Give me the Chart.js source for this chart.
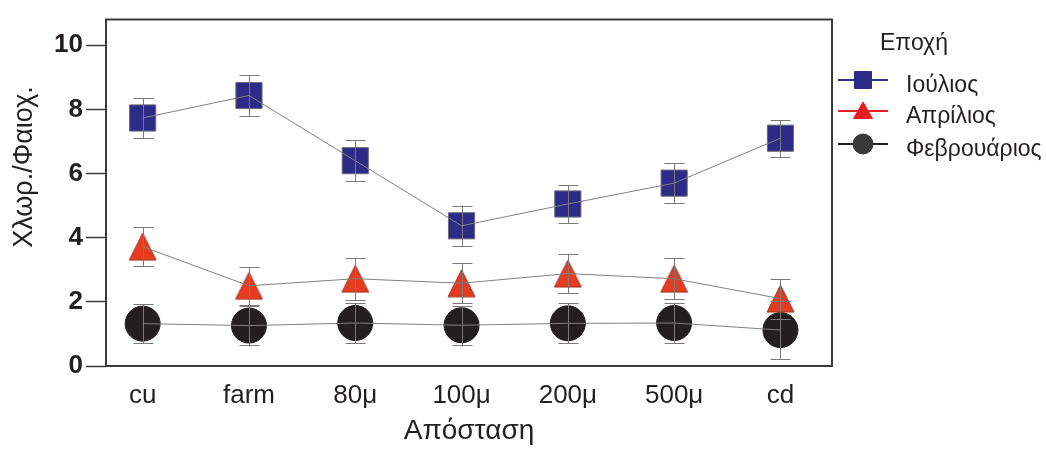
<!DOCTYPE html>
<html>
<head>
<meta charset="utf-8">
<script src="https://cdn.jsdelivr.net/npm/chart.js@4"></script>
<style>
  body { margin: 0; background: #fff; }
  #wrap { width: 1046px; height: 450px; }
</style>
</head>
<body>
<div id="wrap"><canvas id="myChart" width="1046" height="450"></canvas></div>
<script>
// Categories and values
var labels = ['cu', 'farm', '80μ', '100μ', '200μ', '500μ', 'cd'];
var yTicks = [0, 2, 4, 6, 8, 10];
var seriesNames = ['Ιούλιος', 'Απρίλιος', 'Φεβρουάριος'];

var julyMean = [7.73, 8.43, 6.40, 4.37, 5.05, 5.70, 7.10];
var julyErr = [0.62, 0.63, 0.63, 0.62, 0.58, 0.62, 0.58];
var aprilMean = [3.72, 2.50, 2.72, 2.58, 2.88, 2.72, 2.10];
var aprilErr = [0.60, 0.60, 0.66, 0.62, 0.62, 0.64, 0.62];
var febMean = [1.32, 1.26, 1.34, 1.27, 1.33, 1.34, 1.12];
var febErr = [0.60, 0.60, 0.62, 0.60, 0.62, 0.62, 0.90];

var SANS = "'Liberation Sans', Arial, sans-serif";
var TEXT = '#231F20';

function toPoints(values) {
  return values.map(function (v, i) { return { x: i, y: v }; });
}

// Triangle marker drawn on a small canvas so it sits centred on the point
function triangleMarker(w, h, fill, stroke) {
  var c = document.createElement('canvas');
  c.width = w + 2; c.height = h + 2;
  var g = c.getContext('2d');
  g.beginPath();
  g.moveTo(c.width / 2, 1);
  g.lineTo(c.width - 1, c.height - 1);
  g.lineTo(1, c.height - 1);
  g.closePath();
  g.fillStyle = fill; g.fill();
  g.strokeStyle = stroke; g.lineWidth = 1; g.stroke();
  return c;
}

// Marker styles, one per series
var styles = [
  { shape: 'rect', radius: 18.5, fill: '#2E2A88', border: '#6b6b7a', legendLine: '#2E3192' },
  { shape: triangleMarker(27, 27, '#E63B1F', '#9a3a2a'), radius: 14, fill: '#E63B1F', border: '#9a3a2a', legendLine: '#ED1C24' },
  { shape: 'circle', radius: 17.5, fill: '#231F20', border: '#231F20', legendLine: '#231F20' }
];
var means = [julyMean, aprilMean, febMean];
var errs = [julyErr, aprilErr, febErr];

var datasets = [];
// connecting lines on top of markers (lower order is drawn last)
means.forEach(function (m, s) {
  datasets.push({
    label: seriesNames[s] + ' line',
    data: toPoints(m),
    showLine: true,
    borderColor: '#808080',
    borderWidth: 1,
    pointRadius: 0,
    tension: 0,
    order: 0,
    clip: false
  });
});
means.forEach(function (m, s) {
  datasets.push({
    label: seriesNames[s],
    data: toPoints(m),
    showLine: false,
    pointStyle: styles[s].shape,
    pointRadius: styles[s].radius,
    pointBackgroundColor: styles[s].fill,
    pointBorderColor: styles[s].border,
    pointBorderWidth: 1,
    order: 1,
    clip: false
  });
});

// Box around the plot area plus the rotated y title
var framePlugin = {
  id: 'frame',
  afterDraw: function (chart) {
    var a = chart.chartArea, ctx = chart.ctx;
    ctx.save();
    ctx.strokeStyle = '#3a3a3a';
    ctx.lineWidth = 2;
    ctx.strokeRect(a.left, a.top, a.right - a.left, a.bottom - a.top);
    ctx.translate(25, 167);
    ctx.rotate(-Math.PI / 2);
    ctx.fillStyle = TEXT;
    ctx.font = '27px ' + SANS;
    ctx.textAlign = 'center';
    ctx.textBaseline = 'middle';
    ctx.fillText('Χλωρ./Φαιοχ.', 0, 0);
    ctx.restore();
  }
};

// Error bars with caps
var errorBarPlugin = {
  id: 'errorBars',
  afterDatasetsDraw: function (chart) {
    var ctx = chart.ctx, xs = chart.scales.x, ys = chart.scales.y;
    ctx.save();
    ctx.strokeStyle = '#7a7a7a';
    ctx.lineWidth = 1;
    means.forEach(function (m, s) {
      m.forEach(function (v, i) {
        var px = Math.round(xs.getPixelForValue(i)) + 0.5;
        var top = Math.round(ys.getPixelForValue(v + errs[s][i])) + 0.5;
        var bot = Math.round(ys.getPixelForValue(v - errs[s][i])) + 0.5;
        ctx.beginPath();
        ctx.moveTo(px, top); ctx.lineTo(px, bot);
        ctx.moveTo(px - 10, top); ctx.lineTo(px + 10, top);
        ctx.moveTo(px - 10, bot); ctx.lineTo(px + 10, bot);
        ctx.stroke();
      });
    });
    ctx.restore();
  }
};

// Legend at the right, with a line through each marker
var legendPlugin = {
  id: 'sideLegend',
  afterDraw: function (chart) {
    var ctx = chart.ctx;
    var x0 = 838, x1 = 888, tx = 906;
    var rows = [80, 111, 144];
    var legendRadius = [12, 11, 10];
    var legendFill = ['#2E2A88', '#ED1C24', '#3a3a3a'];
    ctx.save();
    ctx.fillStyle = TEXT;
    ctx.font = '23px ' + SANS;
    ctx.textBaseline = 'middle';
    ctx.fillText('Εποχή', 880, 44);
    seriesNames.forEach(function (name, s) {
      var y = rows[s];
      ctx.strokeStyle = styles[s].legendLine;
      ctx.lineWidth = 2;
      ctx.beginPath();
      ctx.moveTo(x0, y); ctx.lineTo(x1, y);
      ctx.stroke();
      ctx.fillStyle = legendFill[s];
      ctx.strokeStyle = legendFill[s];
      ctx.lineWidth = 1;
      var shape = typeof styles[s].shape === 'string' ? styles[s].shape : 'triangle';
      Chart.helpers.drawPoint(ctx, { pointStyle: shape, radius: legendRadius[s], borderWidth: 1 }, (x0 + x1) / 2, shape === 'triangle' ? y + 2 : y);
      ctx.fillStyle = TEXT;
      ctx.fillText(name, tx, y + 6);
    });
    ctx.restore();
  }
};

var ctx = document.getElementById('myChart').getContext('2d');
var myChart = new Chart(ctx, {
  type: 'line',
  data: { datasets: datasets },
  options: {
    responsive: false,
    animation: false,
    devicePixelRatio: 1,
    layout: { padding: { left: 0, right: 214, top: 10, bottom: 0 } },
    plugins: {
      legend: { display: false },
      tooltip: { enabled: false }
    },
    scales: {
      x: {
        type: 'linear',
        min: -0.345,
        max: 6.485,
        afterBuildTicks: function (axis) {
          axis.ticks = labels.map(function (l, i) { return { value: i }; });
        },
        afterFit: function (axis) { axis.height = 84; },
        grid: { display: false },
        border: { display: false },
        ticks: {
          autoSkip: false,
          maxRotation: 0,
          padding: 6,
          color: TEXT,
          font: { family: SANS, size: 26 },
          callback: function (v) { return labels[v]; }
        },
        title: {
          display: true,
          text: 'Απόσταση',
          color: TEXT,
          font: { family: SANS, size: 28 },
          padding: { top: 0, bottom: 2 }
        }
      },
      y: {
        min: 0,
        max: 10.8,
        afterBuildTicks: function (axis) {
          axis.ticks = yTicks.map(function (v) { return { value: v }; });
        },
        afterFit: function (axis) { axis.width = 106; },
        grid: {
          drawOnChartArea: false,
          drawTicks: true,
          tickLength: 20,
          tickWidth: 1.5,
          tickColor: '#3a3a3a'
        },
        border: { display: false },
        ticks: {
          padding: 3,
          color: TEXT,
          font: { family: SANS, size: 26, weight: 'bold' }
        },
        title: { display: false }
      }
    }
  },
  plugins: [framePlugin, errorBarPlugin, legendPlugin]
});
</script>
</body>
</html>
